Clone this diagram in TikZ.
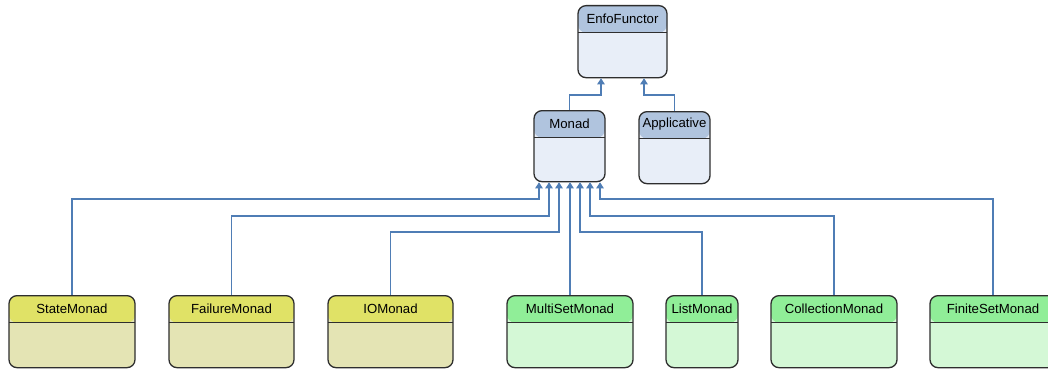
\documentclass[tikz,border=0pt]{standalone}
\usepackage{fontspec}
\setmainfont{Liberation Sans}
\usetikzlibrary{arrows.meta}
\definecolor{bhead}{HTML}{B0C4DE}
\definecolor{bbody}{HTML}{E8EEF8}
\definecolor{yhead}{HTML}{E0E266}
\definecolor{ybody}{HTML}{E4E4B4}
\definecolor{ghead}{HTML}{90EE98}
\definecolor{gbody}{HTML}{D4F8D6}
\definecolor{edge}{HTML}{2E2E2E}
\definecolor{conn}{HTML}{4F7DB5}
\tikzset{
  cls/.style={draw=edge, line width=1.3pt, rounded corners=8pt, inner sep=0pt,
    minimum height=72pt},
  hdr/.style n args={2}{fill=#2, path picture={
      \fill[#1] (path picture bounding box.north west) rectangle
        ([yshift=-27pt]path picture bounding box.north east);
      \draw[edge, line width=1.3pt] ([yshift=-27pt]path picture bounding box.north west) --
        ([yshift=-27pt]path picture bounding box.north east);}},
  blue/.style={cls, hdr={bhead}{bbody}},
  yel/.style={cls, hdr={yhead}{ybody}},
  grn/.style={cls, hdr={ghead}{gbody}},
  ttl/.style={font=\fontsize{13.2}{15}\selectfont, text=black, inner sep=0pt},
  inh/.style={draw=conn, line width=1.1pt, -{Triangle[width=7.5pt,length=6pt]}},
}
\begin{document}
\begin{tikzpicture}[x=1pt, y=-1pt]
\clip (0,0) rectangle (1048,369);
\fill[white] (0,0) rectangle (1048,369);
% top level
\node[blue, minimum width=89pt, anchor=north] (enfo) at (622.5,5) {};
\node[ttl] (enfoT) at ([yshift=-13.5pt]enfo.north) {EnfoFunctor};
\node[blue, minimum width=71pt, minimum height=71pt, anchor=north] (monad) at (569.5,110) {};
\node[ttl] (monadT) at ([yshift=-13.5pt]monad.north) {Monad};
\node[blue, minimum width=71pt, anchor=north] (appl) at (674.5,111) {};
\node[ttl] (applT) at ([yshift=-13.5pt]appl.north) {Applicative};
% bottom level
\node[yel, minimum width=126pt, anchor=north] (state) at (72,295) {};
\node[ttl] (stateT) at ([yshift=-13.5pt]state.north) {StateMonad};
\node[yel, minimum width=125pt, anchor=north] (fail) at (231.5,295) {};
\node[ttl] (failT) at ([yshift=-13.5pt]fail.north) {FailureMonad};
\node[yel, minimum width=125pt, anchor=north] (io) at (390.5,295) {};
\node[ttl] (ioT) at ([yshift=-13.5pt]io.north) {IOMonad};
\node[grn, minimum width=126pt, anchor=north] (multi) at (570,295) {};
\node[ttl] (multiT) at ([yshift=-13.5pt]multi.north) {MultiSetMonad};
\node[grn, minimum width=72pt, anchor=north] (list) at (702,295) {};
\node[ttl] (listT) at ([yshift=-13.5pt]list.north) {ListMonad};
\node[grn, minimum width=126pt, anchor=north] (coll) at (834,295) {};
\node[ttl] (collT) at ([yshift=-13.5pt]coll.north) {CollectionMonad};
\node[grn, minimum width=126pt, anchor=north] (fin) at (993,295) {};
\node[ttl] (finT) at ([yshift=-13.5pt]fin.north) {FiniteSetMonad};
% connectors to EnfoFunctor
\draw[inh] (monad.north) -- ++(0,-15) -| ([xshift=-21.5pt]enfo.south);
\draw[inh] (appl.north) -- ++(0,-16) -| ([xshift=21.5pt]enfo.south);
% connectors to Monad
\draw[inh] (state.north) -- ++(0,-96) -| ([xshift=-30.5pt]monad.south);
\draw[inh] (fail.north) -- ++(0,-79) -| ([xshift=-20.5pt]monad.south);
\draw[inh] (io.north) -- ++(0,-63) -| ([xshift=-10.5pt]monad.south);
\draw[inh] (multi.north) -- (multi.north |- monad.south);
\draw[inh] (list.north) -- ++(0,-63) -| ([xshift=10.5pt]monad.south);
\draw[inh] (coll.north) -- ++(0,-79) -| ([xshift=20.5pt]monad.south);
\draw[inh] (fin.north) -- ++(0,-96) -| ([xshift=30.5pt]monad.south);
\end{tikzpicture}
\end{document}
